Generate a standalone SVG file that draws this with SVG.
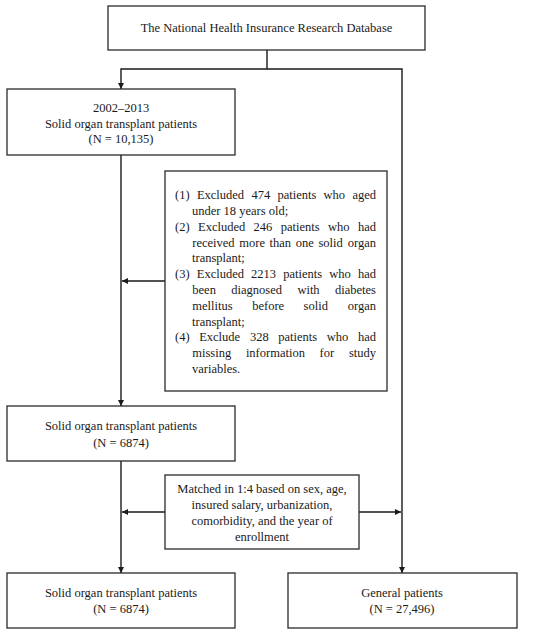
<svg xmlns="http://www.w3.org/2000/svg" width="550" height="634" viewBox="0 0 550 634">
<defs>
<style>
.box{fill:#fff;stroke:#2a2a2a;stroke-width:1.3}
.ln{fill:none;stroke:#1a1a1a;stroke-width:1.4}
text{font-family:"Liberation Serif","Times New Roman",serif;font-size:12.5px;fill:#1a1a1a}
.c{text-anchor:middle}
.e{text-anchor:end}
</style>
<marker id="ah" viewBox="0 0 10 10" refX="10" refY="5" markerWidth="6" markerHeight="6" markerUnits="userSpaceOnUse" orient="auto">
<path d="M0,0 L10,5 L0,10 z" fill="#1a1a1a"/>
</marker>
</defs>
<rect width="550" height="634" fill="#fff"/>
<g id="connectors">
<path class="ln" d="M267,50 V69 H121 V89" marker-end="url(#ah)"/>
<path class="ln" d="M267,69 H402 V573" marker-end="url(#ah)"/>
<path class="ln" d="M121,155 V406" marker-end="url(#ah)"/>
<path class="ln" d="M121,461 V573" marker-end="url(#ah)"/>
<path class="ln" d="M165,281 H122" marker-end="url(#ah)"/>
<path class="ln" d="M165,512 H122" marker-end="url(#ah)"/>
<path class="ln" d="M359,512 H401" marker-end="url(#ah)"/>
</g>
<g id="nhird">
<rect class="box" x="108" y="6" width="317" height="44"/>
<text class="c" x="266.5" y="32">The National Health Insurance Research Database</text>
</g>
<g id="sot-all">
<rect class="box" x="7" y="89" width="228" height="66"/>
<text class="c" x="121" y="112">2002–2013</text>
<text class="c" x="121" y="128">Solid organ transplant patients</text>
<text class="c" x="121" y="143">(N = 10,135)</text>
</g>
<g id="exclusion">
<rect class="box" x="165" y="171" width="222" height="220"/>
<text y="199"><tspan x="175">(1)</tspan><tspan x="196.9">Excluded</tspan><tspan x="251.4">474</tspan><tspan x="277.4">patients</tspan><tspan x="323.6">who</tspan></text>
<text class="e" x="376" y="199">aged</text>
<text x="192" y="215">under 18 years old;</text>
<text y="231"><tspan x="175">(2)</tspan><tspan x="198">Excluded</tspan><tspan x="253.6">246</tspan><tspan x="280.8">patients</tspan><tspan x="328">who</tspan></text>
<text class="e" x="376" y="231">had</text>
<text y="247"><tspan x="192.3">received</tspan><tspan x="239.3">more</tspan><tspan x="269.6">than</tspan><tspan x="295.8">one</tspan><tspan x="318.5">solid</tspan></text>
<text class="e" x="376" y="247">organ</text>
<text x="192" y="262">transplant;</text>
<text y="278"><tspan x="175">(3)</tspan><tspan x="196.8">Excluded</tspan><tspan x="251.1">2213</tspan><tspan x="283.3">patients</tspan><tspan x="329.3">who</tspan></text>
<text class="e" x="376" y="278">had</text>
<text y="294"><tspan x="192.3">been</tspan><tspan x="231.3">diagnosed</tspan><tspan x="297.4">with</tspan></text>
<text class="e" x="376" y="294">diabetes</text>
<text y="310"><tspan x="192.3">mellitus</tspan><tspan x="252.2">before</tspan><tspan x="303.6">solid</tspan></text>
<text class="e" x="376" y="310">organ</text>
<text x="192" y="326">transplant;</text>
<text y="341"><tspan x="175">(4)</tspan><tspan x="199.2">Exclude</tspan><tspan x="249.9">328</tspan><tspan x="278.3">patients</tspan><tspan x="326.8">who</tspan></text>
<text class="e" x="376" y="341">had</text>
<text y="357"><tspan x="192.3">missing</tspan><tspan x="245.9">information</tspan><tspan x="319.6">for</tspan></text>
<text class="e" x="376" y="357">study</text>
<text x="192" y="373">variables.</text>
</g>
<g id="sot-6874">
<rect class="box" x="7" y="406" width="228" height="55"/>
<text class="c" x="121" y="430">Solid organ transplant patients</text>
<text class="c" x="121" y="447">(N = 6874)</text>
</g>
<g id="matching">
<rect class="box" x="165" y="475" width="194" height="74"/>
<text class="c" x="262" y="493">Matched in 1:4 based on sex, age,</text>
<text class="c" x="262" y="509">insured salary, urbanization,</text>
<text class="c" x="262" y="525">comorbidity, and the year of</text>
<text class="c" x="262" y="541">enrollment</text>
</g>
<g id="sot-final">
<rect class="box" x="7" y="573" width="228" height="55"/>
<text class="c" x="121" y="597">Solid organ transplant patients</text>
<text class="c" x="121" y="613">(N = 6874)</text>
</g>
<g id="general">
<rect class="box" x="288" y="573" width="229" height="55"/>
<text class="c" x="402" y="597">General patients</text>
<text class="c" x="402" y="613">(N = 27,496)</text>
</g>
</svg>
